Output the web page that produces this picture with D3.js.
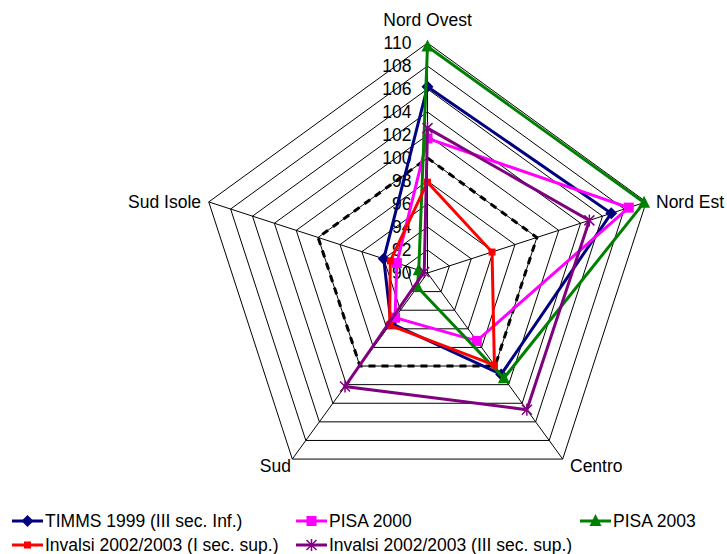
<!DOCTYPE html>
<html><head><meta charset="utf-8">
<script src="https://cdn.jsdelivr.net/npm/d3@7"></script>
<style>body{margin:0;background:#fff}svg{display:block}text{font-family:"Liberation Sans",Arial,sans-serif;fill:#000}</style>
</head><body><svg id="c" width="727" height="554"></svg>
<script>
const regions = ["Nord Ovest","Nord Est","Centro","Sud","Sud Isole"];
const ticks = [90,92,94,96,98,100,102,104,106,108,110];
const seriesNames = ["TIMMS 1999 (III sec. Inf.)","PISA 2000","PISA 2003","Invalsi 2002/2003 (I sec. sup.)","Invalsi 2002/2003 (III sec. sup.)"];
const timms1999 = [106.2,106.8,100.9,95.4,94.0];
const pisa2000 = [101.7,108.4,97.3,94.8,92.8];
const pisa2003 = [109.7,109.8,101.3,91.5,90.8];
const invalsiI = [97.9,95.9,99.9,95.6,93.4];
const invalsiIII = [102.6,104.8,104.7,102.2,90.3];
const reference = [100,100,100,100,100];

const colors = ["#000080","#FF00FF","#008000","#FF0000","#800080"];
const markers = ["diamond","square","triangle","dash","star"];
const allSeries = [timms1999,pisa2000,pisa2003,invalsiI,invalsiIII];
const FS = 17.5;

const svg = d3.select("#c");
const cx = 427.5, cy = 273, R = 230;
const r = d3.scaleLinear().domain([90,110]).range([0,R]);
const ang = i => -Math.PI/2 + i*2*Math.PI/regions.length;
const pt = (v,i) => [cx + r(v)*Math.cos(ang(i)), cy + r(v)*Math.sin(ang(i))];
const line = d3.line();

// grid rings
const g = svg.append("g");
ticks.slice(1).forEach(t=>{
  g.append("path").attr("d", line(regions.map((_,i)=>pt(t,i)).concat([pt(t,0)])))
   .attr("fill","none").attr("stroke","#000").attr("stroke-width",1);
});
regions.forEach((_,i)=>{
  const p = pt(110,i);
  g.append("line").attr("x1",cx).attr("y1",cy).attr("x2",p[0]).attr("y2",p[1]).attr("stroke","#000").attr("stroke-width",1);
});
// reference dashed
g.append("path").attr("d", line(reference.map((v,i)=>pt(v,i)).concat([pt(reference[0],0)])))
  .attr("fill","none").attr("stroke","#000").attr("stroke-width",3).attr("stroke-dasharray","7,6");

// tick labels
ticks.forEach(t=>{
  svg.append("text").attr("x",cx-16).attr("y",cy-r(t)).attr("dy","0.35em").attr("text-anchor","end")
    .attr("font-size",FS).text(t);
});

// region labels
const lab = [
  {x:cx, y:20, a:"middle"},
  {x:656, y:202, a:"start"},
  {x:570, y:466, a:"start"},
  {x:291, y:466, a:"end"},
  {x:201, y:202, a:"end"}
];
regions.forEach((n,i)=>{
  svg.append("text").attr("x",lab[i].x).attr("y",lab[i].y).attr("dy","0.35em").attr("text-anchor",lab[i].a)
    .attr("font-size",FS).text(n);
});

function drawMarker(sel, type, color, x, y){
  if(type==="diamond") sel.append("path").attr("d",`M${x},${y-6}L${x+6},${y}L${x},${y+6}L${x-6},${y}Z`).attr("fill",color);
  else if(type==="square") sel.append("rect").attr("x",x-5).attr("y",y-5).attr("width",10).attr("height",10).attr("fill",color);
  else if(type==="triangle") sel.append("path").attr("d",`M${x},${y-7}L${x+6},${y+5}L${x-6},${y+5}Z`).attr("fill",color);
  else if(type==="dash") sel.append("rect").attr("x",x-3.5).attr("y",y-3.5).attr("width",7).attr("height",7).attr("fill",color);
  else if(type==="star"){
    const s=5;
    sel.append("path").attr("d",`M${x-s},${y-s}L${x+s},${y+s}M${x-s},${y+s}L${x+s},${y-s}M${x},${y-s-1}L${x},${y+s+1}`)
      .attr("stroke",color).attr("stroke-width",1.5).attr("fill","none");
  }
}

allSeries.forEach((vals,k)=>{
  const pts = vals.map((v,i)=>pt(v,i));
  svg.append("path").attr("d", line(pts.concat([pts[0]]))).attr("fill","none")
    .attr("stroke",colors[k]).attr("stroke-width",3).attr("stroke-linejoin","miter");
  const mg = svg.append("g");
  pts.forEach(p=>drawMarker(mg, markers[k], colors[k], p[0], p[1]));
});

// legend
const legPos = [[12,521],[296,521],[580,521],[12,545],[296,545]];
seriesNames.forEach((n,k)=>{
  const [x,y] = legPos[k];
  const lg = svg.append("g");
  lg.append("line").attr("x1",x).attr("y1",y).attr("x2",x+31).attr("y2",y).attr("stroke",colors[k]).attr("stroke-width",3);
  drawMarker(lg, markers[k], colors[k], x+15.5, y);
  lg.append("text").attr("x",x+33).attr("y",y).attr("dy","0.35em").attr("font-size",FS).text(n);
});
</script></body></html>
